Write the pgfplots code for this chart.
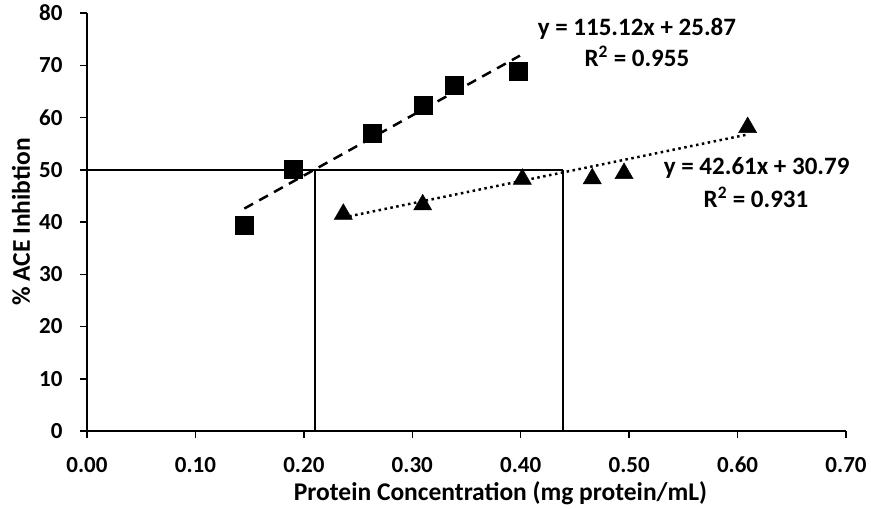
\documentclass[border=0pt]{standalone}
\usepackage{fontspec}
\setmainfont{Carlito}
\usepackage{pgfplots}
\usepackage{pgfplotstable}
\pgfplotsset{compat=1.18}

% ACE inhibition of the two hydrolysate fractions
\pgfplotstableread{
x       y
0.1451  39.3
0.1903  50.1
0.2632  57.0
0.3099  62.4
0.3388  66.1
0.3978  68.9
}\fractionA

\pgfplotstableread{
x       y
0.2364  42.0
0.3096  43.8
0.4015  48.7
0.4660  48.8
0.4953  49.8
0.6093  58.6
}\fractionB

% Linear fits: y = 115.12x + 25.87 and y = 42.61x + 30.79
\pgfplotstableread{
x       y
0.1451  42.57
0.3993  71.84
}\fitA

\pgfplotstableread{
x       y
0.2364  40.86
0.6093  56.75
}\fitB

\newcommand{\tickfont}{\bfseries\fontsize{23}{23}\selectfont}
\newcommand{\labfont}{\bfseries\fontsize{25.5}{25.5}\selectfont}
\newcommand{\eqfont}{\bfseries\fontsize{25}{25}\selectfont}

\begin{document}
\begin{tikzpicture}
\begin{axis}[
  name=ax,
  scale only axis, width=759pt, height=418pt,
  xmin=0, xmax=0.7, ymin=0, ymax=80,
  axis x line=bottom, axis y line=left,
  axis line style={-, line width=1.8pt},
  xtick={0,0.1,0.2,0.3,0.4,0.5,0.6,0.7},
  ytick={0,10,20,30,40,50,60,70,80},
  tick align=outside, major tick length=7pt,
  tick style={line width=1.5pt, black},
  /pgf/number format/assume math mode=true,
  xticklabel style={font=\tickfont, text height=15pt, text depth=0pt, yshift=-16pt,
    /pgf/number format/.cd, fixed, fixed zerofill, precision=2},
  yticklabel style={font=\tickfont, xshift=-14pt},
  xlabel={Protein Concentration (mg protein/mL)},
  ylabel={\% ACE Inhibtion},
  every axis x label/.style={at={(rel axis cs:0.5448,0)}, anchor=base, yshift=-69pt, font=\labfont},
  every axis y label/.style={at={(rel axis cs:0,0.5)}, anchor=center, rotate=90, yshift=66pt, font=\labfont},
  clip=false,
]
% IC50 guide lines
\addplot[black, line width=1.8pt] coordinates {(0,50) (0.439,50)};
\addplot[black, line width=1.8pt] coordinates {(0.2103,0) (0.2103,50)};
\addplot[black, line width=1.8pt] coordinates {(0.439,0) (0.439,50)};

% trend lines
\addplot[black, line width=2.5pt, dash pattern=on 10pt off 7pt] table {\fitA};
\addplot[black, line width=2.5pt, dash pattern=on 2.5pt off 3.5pt] table {\fitB};

% measured points
\addplot[only marks, mark=square*, mark size=9pt, mark options={fill=black, draw=black}] table {\fractionA};
\addplot[only marks, mark=triangle*, mark size=10.5pt, mark options={fill=black, draw=black, yshift=-2.6pt}] table {\fractionB};

\node[font=\eqfont] at (axis cs:0.5072,76.88) {y = 115.12x + 25.87};
\node[font=\eqfont] at (axis cs:0.5072,71.64) {R\textsuperscript{2} = 0.955};
\node[font=\eqfont] at (axis cs:0.6176,50.33) {y = 42.61x + 30.79};
\node[font=\eqfont] at (axis cs:0.6170,44.78) {R\textsuperscript{2} = 0.931};
\end{axis}
\pgfresetboundingbox
\path[use as bounding box] ([shift={(-87pt,-77pt)}]ax.south west) rectangle ([shift={(25pt,13pt)}]ax.north east);
\end{tikzpicture}
\end{document}
